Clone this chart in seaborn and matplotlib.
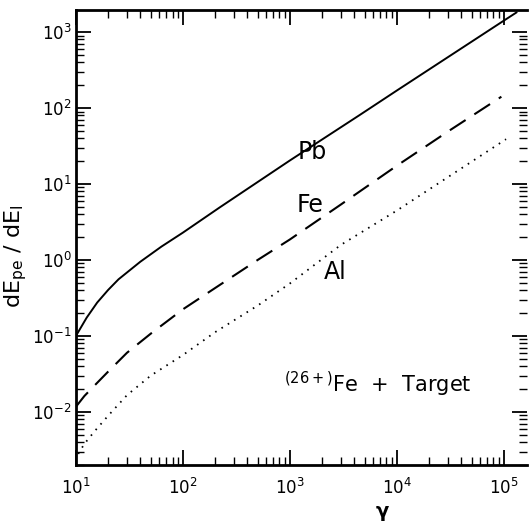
import numpy as np
import pandas as pd
import matplotlib
matplotlib.use("Agg")
import matplotlib.pyplot as plt
import seaborn as sns
from matplotlib.ticker import FixedLocator, FuncFormatter, NullFormatter

# values (gamma vs dE_pe/dE_I)
gamma_pb = [10, 12.6, 15.8, 20, 25, 32, 40, 63, 100, 220, 1000, 4500, 10000, 100000, 132000]
pb = [0.10, 0.174, 0.275, 0.403, 0.556, 0.736, 0.948, 1.50, 2.29, 4.9, 20.4, 81.0, 170.0, 1413.0, 1820.0]

gamma_fe = [10, 12, 15, 20, 30, 50, 100, 200, 500, 1000, 3000, 10000, 30000, 95000]
fe = [0.0117, 0.0162, 0.0224, 0.0339, 0.060, 0.107, 0.224, 0.427, 1.0, 1.86, 5.37, 17.4, 49.0, 141.0]

gamma_al = [10.5, 12, 15, 20, 30, 50, 100, 200, 500, 1000, 3000, 10000, 30000, 105000]
al = [0.0028, 0.0038, 0.0056, 0.0089, 0.0166, 0.030, 0.056, 0.112, 0.251, 0.49, 1.58, 4.47, 12.3, 38.9]

x_decades = [1, 2, 3, 4, 5]
y_decades = [-2, -1, 0, 1, 2, 3]

sns.set_style("ticks", {'axes.edgecolor': 'black', 'text.color': 'black',
                        'axes.labelcolor': 'black', 'xtick.color': 'black',
                        'ytick.color': 'black'})
plt.rcParams['font.family'] = ['DejaVu Sans']
plt.rcParams['mathtext.fontset'] = 'dejavusans'

fig = plt.figure(figsize=(5.31, 5.29), dpi=100)
ax = fig.add_axes([0.143, 0.121, 0.849, 0.860])
ax.set_xscale('log')
ax.set_yscale('log')

df_pb = pd.DataFrame({'gamma': gamma_pb, 'ratio': pb})
df_fe = pd.DataFrame({'gamma': gamma_fe, 'ratio': fe})
df_al = pd.DataFrame({'gamma': gamma_al, 'ratio': al})

sns.lineplot(data=df_pb, x='gamma', y='ratio', ax=ax, color='black', lw=1.4,
             sort=False, estimator=None)
sns.lineplot(data=df_fe, x='gamma', y='ratio', ax=ax, color='black', lw=1.5,
             sort=False, estimator=None)
sns.lineplot(data=df_al, x='gamma', y='ratio', ax=ax, color='black', lw=1.3,
             sort=False, estimator=None)
ax.lines[1].set_dashes((9, 5))
ax.lines[2].set_dashes((0.9, 3.2))

# inward ticks on all four sides, only decades inside the view get labels
fmt = FuncFormatter(lambda v, p: r'$10^{%d}$' % round(np.log10(v)))
for axis, decs in [(ax.xaxis, x_decades), (ax.yaxis, y_decades)]:
    axis.set_major_locator(FixedLocator([10.0 ** d for d in decs]))
    minors = [m * 10.0 ** d for d in range(decs[0] - 1, decs[-1] + 1) for m in range(2, 10)]
    axis.set_minor_locator(FixedLocator(minors))
    axis.set_minor_formatter(NullFormatter())
    axis.set_major_formatter(fmt)
ax.set_xlim(10, 1.64e5)
ax.set_ylim(2.0e-3, 1.95e3)
ax.tick_params(which='major', direction='in', length=11, width=1.3,
               top=True, right=True, labelsize=12)
ax.tick_params(which='minor', direction='in', length=6, width=1.0,
               top=True, right=True)
ax.tick_params(axis='x', pad=9)
ax.tick_params(axis='y', pad=3)

for side in ['left', 'bottom', 'top']:
    ax.spines[side].set_linewidth(2.0)
ax.spines['right'].set_visible(False)

ax.set_xlabel(r'$\mathbf{\gamma}$', fontsize=14)
ax.xaxis.set_label_coords(0.68, -0.085)
ax.set_ylabel(r'$\mathrm{dE_{pe}\ /\ dE_{\mathrm{I}}}$', fontsize=16)
ax.yaxis.set_label_coords(-0.105, 0.46)

ax.text(1620, 26, 'Pb', fontsize=17, ha='center', va='center')
ax.text(1550, 5.3, 'Fe', fontsize=17, ha='center', va='center')
ax.text(2630, 0.69, 'Al', fontsize=17, ha='center', va='center')
ax.text(6600, 0.023, r'$^{(26+)}$Fe  +  Target', fontsize=15, ha='center', va='center')

fig.savefig('out.png', dpi=100)
